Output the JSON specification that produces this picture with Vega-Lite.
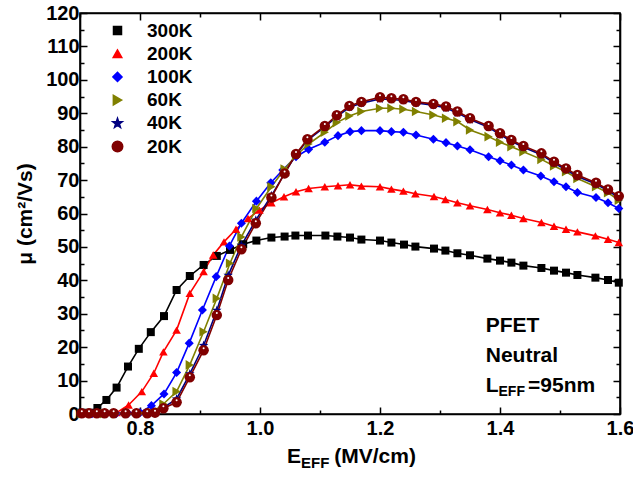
{
  "$schema": "https://vega.github.io/schema/vega-lite/v6.json",
  "width": 540,
  "height": 401,
  "autosize": {"type": "none"},
  "padding": {"left": 80, "top": 13, "right": 13, "bottom": 66},
  "background": "white",
  "config": {
    "view": {"stroke": "black", "strokeWidth": 1.6},
    "font": "Liberation Sans"
  },
  "data": {
    "values": [
      {"T":"300K","E":0.703,"mu":0.4},{"T":"300K","E":0.717,"mu":0.4},{"T":"300K","E":0.729,"mu":1.8},{"T":"300K","E":0.744,"mu":4.2},{"T":"300K","E":0.761,"mu":7.9},{"T":"300K","E":0.780,"mu":14.2},{"T":"300K","E":0.798,"mu":19.5},{"T":"300K","E":0.818,"mu":24.5},{"T":"300K","E":0.840,"mu":29.3},{"T":"300K","E":0.861,"mu":37.1},{"T":"300K","E":0.883,"mu":41.3},{"T":"300K","E":0.906,"mu":44.6},{"T":"300K","E":0.928,"mu":47.3},{"T":"300K","E":0.950,"mu":49.1},{"T":"300K","E":0.972,"mu":50.8},{"T":"300K","E":0.994,"mu":51.9},{"T":"300K","E":1.019,"mu":52.8},{"T":"300K","E":1.041,"mu":53.1},{"T":"300K","E":1.059,"mu":53.4},{"T":"300K","E":1.080,"mu":53.4},{"T":"300K","E":1.109,"mu":53.4},{"T":"300K","E":1.129,"mu":53.1},{"T":"300K","E":1.150,"mu":52.8},{"T":"300K","E":1.169,"mu":52.2},{"T":"300K","E":1.200,"mu":51.9},{"T":"300K","E":1.219,"mu":51.3},{"T":"300K","E":1.240,"mu":50.7},{"T":"300K","E":1.259,"mu":50.1},{"T":"300K","E":1.290,"mu":49.5},{"T":"300K","E":1.309,"mu":48.9},{"T":"300K","E":1.329,"mu":48.1},{"T":"300K","E":1.350,"mu":47.5},{"T":"300K","E":1.379,"mu":46.5},{"T":"300K","E":1.400,"mu":45.9},{"T":"300K","E":1.419,"mu":45.3},{"T":"300K","E":1.439,"mu":44.4},{"T":"300K","E":1.469,"mu":43.7},{"T":"300K","E":1.490,"mu":42.9},{"T":"300K","E":1.510,"mu":42.3},{"T":"300K","E":1.529,"mu":41.6},{"T":"300K","E":1.559,"mu":40.8},{"T":"300K","E":1.580,"mu":40.1},{"T":"300K","E":1.598,"mu":39.3},
      {"T":"200K","E":0.703,"mu":0.1},{"T":"200K","E":0.720,"mu":0.1},{"T":"200K","E":0.740,"mu":0.2},{"T":"200K","E":0.761,"mu":0.4},{"T":"200K","E":0.781,"mu":2.7},{"T":"200K","E":0.803,"mu":6.7},{"T":"200K","E":0.823,"mu":12.2},{"T":"200K","E":0.839,"mu":18.6},{"T":"200K","E":0.861,"mu":25.1},{"T":"200K","E":0.883,"mu":36.1},{"T":"200K","E":0.906,"mu":42.6},{"T":"200K","E":0.922,"mu":47.6},{"T":"200K","E":0.940,"mu":51.5},{"T":"200K","E":0.960,"mu":55.3},{"T":"200K","E":0.980,"mu":58.5},{"T":"200K","E":0.999,"mu":61.0},{"T":"200K","E":1.019,"mu":63.2},{"T":"200K","E":1.040,"mu":65.0},{"T":"200K","E":1.060,"mu":66.5},{"T":"200K","E":1.081,"mu":67.5},{"T":"200K","E":1.108,"mu":68.0},{"T":"200K","E":1.130,"mu":68.3},{"T":"200K","E":1.150,"mu":68.6},{"T":"200K","E":1.169,"mu":68.2},{"T":"200K","E":1.200,"mu":68.0},{"T":"200K","E":1.219,"mu":67.3},{"T":"200K","E":1.239,"mu":66.7},{"T":"200K","E":1.259,"mu":65.9},{"T":"200K","E":1.290,"mu":65.1},{"T":"200K","E":1.309,"mu":64.2},{"T":"200K","E":1.329,"mu":63.2},{"T":"200K","E":1.350,"mu":62.3},{"T":"200K","E":1.379,"mu":61.2},{"T":"200K","E":1.400,"mu":60.2},{"T":"200K","E":1.419,"mu":59.5},{"T":"200K","E":1.439,"mu":58.5},{"T":"200K","E":1.469,"mu":57.3},{"T":"200K","E":1.490,"mu":56.2},{"T":"200K","E":1.510,"mu":55.3},{"T":"200K","E":1.529,"mu":54.5},{"T":"200K","E":1.559,"mu":53.3},{"T":"200K","E":1.580,"mu":52.3},{"T":"200K","E":1.598,"mu":51.3},
      {"T":"100K","E":0.703,"mu":0.1},{"T":"100K","E":0.720,"mu":0.1},{"T":"100K","E":0.740,"mu":0.1},{"T":"100K","E":0.760,"mu":0.1},{"T":"100K","E":0.780,"mu":0.2},{"T":"100K","E":0.800,"mu":0.4},{"T":"100K","E":0.819,"mu":2.5},{"T":"100K","E":0.840,"mu":6.0},{"T":"100K","E":0.861,"mu":12.4},{"T":"100K","E":0.882,"mu":21.2},{"T":"100K","E":0.904,"mu":31.1},{"T":"100K","E":0.927,"mu":41.1},{"T":"100K","E":0.949,"mu":50.3},{"T":"100K","E":0.969,"mu":57.1},{"T":"100K","E":0.994,"mu":63.7},{"T":"100K","E":1.018,"mu":69.2},{"T":"100K","E":1.038,"mu":73.0},{"T":"100K","E":1.060,"mu":77.0},{"T":"100K","E":1.081,"mu":79.2},{"T":"100K","E":1.108,"mu":81.3},{"T":"100K","E":1.130,"mu":83.3},{"T":"100K","E":1.150,"mu":84.5},{"T":"100K","E":1.169,"mu":84.8},{"T":"100K","E":1.200,"mu":84.8},{"T":"100K","E":1.219,"mu":84.5},{"T":"100K","E":1.239,"mu":84.3},{"T":"100K","E":1.260,"mu":83.5},{"T":"100K","E":1.289,"mu":82.2},{"T":"100K","E":1.310,"mu":81.2},{"T":"100K","E":1.329,"mu":80.2},{"T":"100K","E":1.350,"mu":79.1},{"T":"100K","E":1.381,"mu":77.0},{"T":"100K","E":1.400,"mu":75.8},{"T":"100K","E":1.419,"mu":74.5},{"T":"100K","E":1.439,"mu":73.0},{"T":"100K","E":1.468,"mu":71.2},{"T":"100K","E":1.490,"mu":69.5},{"T":"100K","E":1.510,"mu":68.0},{"T":"100K","E":1.529,"mu":66.3},{"T":"100K","E":1.560,"mu":64.8},{"T":"100K","E":1.580,"mu":63.2},{"T":"100K","E":1.598,"mu":61.5},
      {"T":"60K","E":0.703,"mu":0.1},{"T":"60K","E":0.720,"mu":0.1},{"T":"60K","E":0.740,"mu":0.1},{"T":"60K","E":0.760,"mu":0.1},{"T":"60K","E":0.780,"mu":0.1},{"T":"60K","E":0.800,"mu":0.2},{"T":"60K","E":0.820,"mu":0.4},{"T":"60K","E":0.839,"mu":3.0},{"T":"60K","E":0.861,"mu":6.7},{"T":"60K","E":0.883,"mu":14.7},{"T":"60K","E":0.906,"mu":24.6},{"T":"60K","E":0.928,"mu":34.6},{"T":"60K","E":0.950,"mu":45.1},{"T":"60K","E":0.969,"mu":53.0},{"T":"60K","E":0.994,"mu":61.5},{"T":"60K","E":1.019,"mu":68.0},{"T":"60K","E":1.041,"mu":73.3},{"T":"60K","E":1.060,"mu":77.3},{"T":"60K","E":1.081,"mu":80.8},{"T":"60K","E":1.108,"mu":84.3},{"T":"60K","E":1.128,"mu":87.2},{"T":"60K","E":1.149,"mu":89.2},{"T":"60K","E":1.169,"mu":90.5},{"T":"60K","E":1.200,"mu":91.5},{"T":"60K","E":1.219,"mu":91.5},{"T":"60K","E":1.239,"mu":91.2},{"T":"60K","E":1.260,"mu":90.5},{"T":"60K","E":1.289,"mu":89.5},{"T":"60K","E":1.310,"mu":88.5},{"T":"60K","E":1.329,"mu":87.5},{"T":"60K","E":1.350,"mu":85.0},{"T":"60K","E":1.381,"mu":83.0},{"T":"60K","E":1.400,"mu":81.3},{"T":"60K","E":1.419,"mu":80.0},{"T":"60K","E":1.439,"mu":78.5},{"T":"60K","E":1.469,"mu":76.2},{"T":"60K","E":1.490,"mu":74.2},{"T":"60K","E":1.510,"mu":72.5},{"T":"60K","E":1.529,"mu":70.5},{"T":"60K","E":1.560,"mu":68.0},{"T":"60K","E":1.580,"mu":66.2},{"T":"60K","E":1.598,"mu":64.0},
      {"T":"40K","E":0.703,"mu":0.2},{"T":"40K","E":0.715,"mu":0.2},{"T":"40K","E":0.728,"mu":0.2},{"T":"40K","E":0.741,"mu":0.2},{"T":"40K","E":0.756,"mu":0.2},{"T":"40K","E":0.776,"mu":0.2},{"T":"40K","E":0.794,"mu":0.2},{"T":"40K","E":0.812,"mu":0.2},{"T":"40K","E":0.825,"mu":0.5},{"T":"40K","E":0.839,"mu":1.9},{"T":"40K","E":0.861,"mu":4.5},{"T":"40K","E":0.883,"mu":12.0},{"T":"40K","E":0.906,"mu":20.5},{"T":"40K","E":0.928,"mu":31.0},{"T":"40K","E":0.947,"mu":41.5},{"T":"40K","E":0.969,"mu":50.5},{"T":"40K","E":0.993,"mu":58.0},{"T":"40K","E":1.019,"mu":65.3},{"T":"40K","E":1.041,"mu":72.0},{"T":"40K","E":1.060,"mu":77.6},{"T":"40K","E":1.079,"mu":81.9},{"T":"40K","E":1.108,"mu":85.9},{"T":"40K","E":1.128,"mu":89.0},{"T":"40K","E":1.149,"mu":91.8},{"T":"40K","E":1.169,"mu":93.0},{"T":"40K","E":1.200,"mu":94.3},{"T":"40K","E":1.219,"mu":94.1},{"T":"40K","E":1.239,"mu":93.8},{"T":"40K","E":1.260,"mu":93.1},{"T":"40K","E":1.289,"mu":92.4},{"T":"40K","E":1.310,"mu":91.6},{"T":"40K","E":1.329,"mu":90.1},{"T":"40K","E":1.350,"mu":88.1},{"T":"40K","E":1.381,"mu":85.8},{"T":"40K","E":1.400,"mu":83.6},{"T":"40K","E":1.419,"mu":81.6},{"T":"40K","E":1.439,"mu":79.8},{"T":"40K","E":1.469,"mu":77.6},{"T":"40K","E":1.490,"mu":75.1},{"T":"40K","E":1.510,"mu":73.1},{"T":"40K","E":1.529,"mu":71.1},{"T":"40K","E":1.560,"mu":68.8},{"T":"40K","E":1.580,"mu":66.8},{"T":"40K","E":1.598,"mu":64.8},
      {"T":"20K","E":0.703,"mu":0.2},{"T":"20K","E":0.715,"mu":0.2},{"T":"20K","E":0.728,"mu":0.2},{"T":"20K","E":0.741,"mu":0.2},{"T":"20K","E":0.756,"mu":0.2},{"T":"20K","E":0.776,"mu":0.2},{"T":"20K","E":0.794,"mu":0.2},{"T":"20K","E":0.812,"mu":0.2},{"T":"20K","E":0.825,"mu":0.4},{"T":"20K","E":0.839,"mu":1.7},{"T":"20K","E":0.861,"mu":3.5},{"T":"20K","E":0.883,"mu":11.0},{"T":"20K","E":0.906,"mu":19.1},{"T":"20K","E":0.928,"mu":29.6},{"T":"20K","E":0.947,"mu":40.1},{"T":"20K","E":0.969,"mu":49.3},{"T":"20K","E":0.993,"mu":57.1},{"T":"20K","E":1.019,"mu":64.8},{"T":"20K","E":1.041,"mu":72.0},{"T":"20K","E":1.060,"mu":77.8},{"T":"20K","E":1.079,"mu":82.2},{"T":"20K","E":1.108,"mu":86.2},{"T":"20K","E":1.128,"mu":89.4},{"T":"20K","E":1.149,"mu":92.2},{"T":"20K","E":1.169,"mu":93.4},{"T":"20K","E":1.200,"mu":94.8},{"T":"20K","E":1.219,"mu":94.5},{"T":"20K","E":1.239,"mu":94.2},{"T":"20K","E":1.260,"mu":93.4},{"T":"20K","E":1.289,"mu":92.8},{"T":"20K","E":1.310,"mu":92.0},{"T":"20K","E":1.329,"mu":90.5},{"T":"20K","E":1.350,"mu":88.5},{"T":"20K","E":1.381,"mu":86.2},{"T":"20K","E":1.400,"mu":84.0},{"T":"20K","E":1.419,"mu":82.0},{"T":"20K","E":1.439,"mu":80.2},{"T":"20K","E":1.469,"mu":78.0},{"T":"20K","E":1.490,"mu":75.5},{"T":"20K","E":1.510,"mu":73.5},{"T":"20K","E":1.529,"mu":71.5},{"T":"20K","E":1.560,"mu":69.2},{"T":"20K","E":1.580,"mu":67.2},{"T":"20K","E":1.598,"mu":65.2}
    ]
  },
  "resolve": {"axis": {"x": "independent", "y": "independent"}},
  "layer": [
    {
      "mark": {"type": "line", "strokeWidth": 1.6},
      "encoding": {
        "x": {"field": "E", "type": "quantitative",
          "scale": {"domain": [0.7, 1.6], "nice": false, "zero": false},
          "axis": {"orient": "bottom", "values": [0.7,0.8,0.9,1.0,1.1,1.2,1.3,1.4,1.5,1.6],
            "labelExpr": "abs(datum.value*5-round(datum.value*5))<0.001 ? format(datum.value,'.1f') : ''",
            "tickSize": {"condition": {"test": "abs(datum.value*5-round(datum.value*5))<0.001", "value": -7}, "value": -4},
            "title": null, "grid": false, "labelFontSize": 20, "labelFont": "Liberation Sans", "labelFontWeight": "bold",
            "labelColor": "black", "labelPadding": 11, "labelFlush": false, "labelOverlap": false,
            "domainColor": "black", "domainWidth": 1.6, "tickColor": "black", "tickWidth": 1.5}},
        "y": {"field": "mu", "type": "quantitative",
          "scale": {"domain": [0, 120], "nice": false},
          "axis": {"orient": "left", "values": [0,5,10,15,20,25,30,35,40,45,50,55,60,65,70,75,80,85,90,95,100,105,110,115,120],
            "labelExpr": "datum.value % 10 === 0 ? datum.label : ''",
            "tickSize": {"condition": {"test": "datum.value % 10 === 0", "value": -7}, "value": -4},
            "title": "μ (cm²/Vs)", "titleFontSize": 21, "titleFont": "Liberation Sans", "titleFontWeight": "bold", "titleColor": "black", "titlePadding": 10,
            "grid": false, "labelFontSize": 20, "labelFont": "Liberation Sans", "labelFontWeight": "bold",
            "labelColor": "black", "labelPadding": 8, "labelFlush": false, "labelOverlap": false,
            "domainColor": "black", "domainWidth": 1.6, "tickColor": "black", "tickWidth": 1.5}},
        "color": {"field": "T", "type": "nominal",
          "scale": {"domain": ["300K","200K","100K","60K","40K","20K"], "range": ["#000000","#FF0000","#0000FF","#808000","#000080","#800000"]}}
      }
    },
    {
      "mark": {"type": "point", "filled": true, "opacity": 1},
      "encoding": {
        "x": {"field": "E", "type": "quantitative", "axis": null},
        "y": {"field": "mu", "type": "quantitative", "axis": null},
        "shape": {"field": "T", "type": "nominal",
          "scale": {"domain": ["300K","200K","100K","60K","40K","20K"],
            "range": ["square","triangle-up","diamond","triangle-right","M0,-1L0.24,-0.33L0.95,-0.31L0.39,0.13L0.59,0.81L0,0.41L-0.59,0.81L-0.39,0.13L-0.95,-0.31L-0.24,-0.33Z","circle"]},
          "legend": null},
        "size": {"field": "T", "type": "nominal",
          "scale": {"domain": ["300K","200K","100K","60K","40K","20K"], "range": [64, 110, 90, 110, 110, 85]},
          "legend": null},
        "color": {"field": "T", "type": "nominal",
          "legend": {
            "orient": "none", "legendX": 28, "legendY": 8, "title": null, "padding": 0,
            "labelFontSize": 19, "labelFont": "Liberation Sans", "labelFontWeight": "bold", "labelColor": "black",
            "labelOffset": 20, "rowPadding": 3.2, "symbolSize": 100
          }}
      }
    },
    {
      "transform": [{"filter": "datum.T === '20K'"}],
      "mark": {"type": "point", "filled": true, "color": "white", "size": 4, "yOffset": -2, "opacity": 1},
      "encoding": {
        "x": {"field": "E", "type": "quantitative", "axis": null},
        "y": {"field": "mu", "type": "quantitative", "axis": null}
      }
    },
    {
      "mark": {"type": "point", "opacity": 0},
      "encoding": {
        "x": {"field": "E", "type": "quantitative",
          "axis": {"orient": "top", "values": [0.7,0.8,0.9,1.0,1.1,1.2,1.3,1.4,1.5,1.6], "labels": false, "title": null, "grid": false,
            "tickSize": {"condition": {"test": "abs(datum.value*5-round(datum.value*5))<0.001", "value": -7}, "value": -4},
            "domainColor": "black", "domainWidth": 1.6, "tickColor": "black", "tickWidth": 1.5}},
        "y": {"field": "mu", "type": "quantitative",
          "axis": {"orient": "right", "values": [0,5,10,15,20,25,30,35,40,45,50,55,60,65,70,75,80,85,90,95,100,105,110,115,120], "labels": false, "title": null, "grid": false,
            "tickSize": {"condition": {"test": "datum.value % 10 === 0", "value": -7}, "value": -4},
            "domainColor": "black", "domainWidth": 1.6, "tickColor": "black", "tickWidth": 1.5}}
      }
    },
    {
      "data": {"values": [{}]},
      "mark": {"type": "text", "text": ["PFET", "Neutral"], "lineHeight": 30, "align": "left", "baseline": "alphabetic", "fontSize": 21, "fontWeight": "bold", "font": "Liberation Sans", "color": "black"},
      "encoding": {"x": {"datum": 1.3762, "type": "quantitative", "axis": null}, "y": {"datum": 24.63, "type": "quantitative", "axis": null}}
    },
    {
      "data": {"values": [{}]},
      "mark": {"type": "text", "text": "L", "align": "left", "baseline": "alphabetic", "fontSize": 21, "fontWeight": "bold", "font": "Liberation Sans", "color": "black"},
      "encoding": {"x": {"datum": 1.3762, "type": "quantitative", "axis": null}, "y": {"datum": 6.67, "type": "quantitative", "axis": null}}
    },
    {
      "data": {"values": [{}]},
      "mark": {"type": "text", "text": "EFF", "align": "left", "baseline": "alphabetic", "fontSize": 14, "fontWeight": "bold", "font": "Liberation Sans", "color": "black"},
      "encoding": {"x": {"datum": 1.3975, "type": "quantitative", "axis": null}, "y": {"datum": 5.39, "type": "quantitative", "axis": null}}
    },
    {
      "data": {"values": [{}]},
      "mark": {"type": "text", "text": "=95nm", "align": "left", "baseline": "alphabetic", "fontSize": 21, "fontWeight": "bold", "font": "Liberation Sans", "color": "black"},
      "encoding": {"x": {"datum": 1.4467, "type": "quantitative", "axis": null}, "y": {"datum": 6.67, "type": "quantitative", "axis": null}}
    },
    {
      "data": {"values": [{}]},
      "mark": {"type": "text", "text": "E", "align": "left", "baseline": "alphabetic", "fontSize": 21, "fontWeight": "bold", "font": "Liberation Sans", "color": "black"},
      "encoding": {"x": {"datum": 1.045, "type": "quantitative", "axis": null}, "y": {"datum": -14.66, "type": "quantitative", "axis": null}}
    },
    {
      "data": {"values": [{}]},
      "mark": {"type": "text", "text": "EFF", "align": "left", "baseline": "alphabetic", "fontSize": 15, "fontWeight": "bold", "font": "Liberation Sans", "color": "black"},
      "encoding": {"x": {"datum": 1.0683, "type": "quantitative", "axis": null}, "y": {"datum": -16.16, "type": "quantitative", "axis": null}}
    },
    {
      "data": {"values": [{}]},
      "mark": {"type": "text", "text": "(MV/cm)", "align": "left", "baseline": "alphabetic", "fontSize": 21, "fontWeight": "bold", "font": "Liberation Sans", "color": "black"},
      "encoding": {"x": {"datum": 1.1238, "type": "quantitative", "axis": null}, "y": {"datum": -14.66, "type": "quantitative", "axis": null}}
    }
  ]
}
